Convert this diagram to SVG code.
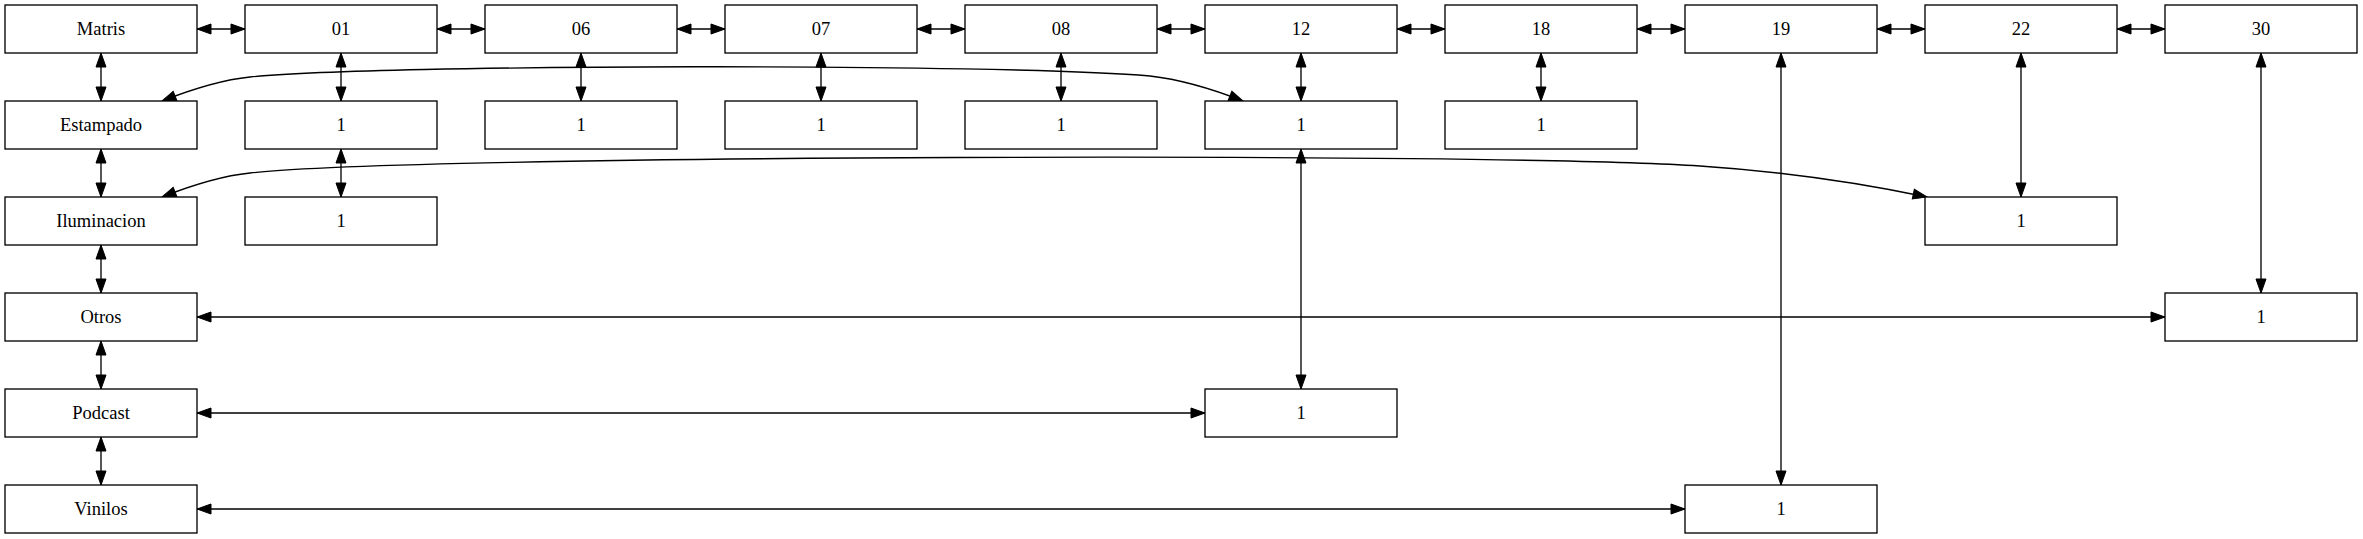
<svg xmlns="http://www.w3.org/2000/svg" width="2363" height="539" viewBox="0 0 2363 539">
<style>
.n rect{fill:#fff;stroke:#000;stroke-width:1.33}
.n text{font-family:"Liberation Serif","Times New Roman",serif;font-size:18.5px;text-anchor:middle;fill:#000}
.e path{fill:none;stroke:#000;stroke-width:1.33;marker-start:url(#ah);marker-end:url(#ah)}
</style>
<defs>
<marker id="ah" markerUnits="userSpaceOnUse" markerWidth="15" markerHeight="11" refX="14" refY="5" orient="auto-start-reverse" overflow="visible">
<path d="M0,0 L14,5 L0,10 Z" fill="#000" stroke="#000" stroke-width="1"/>
</marker>
</defs>
<rect width="2363" height="539" fill="#fff"/>
<g id="connectors" class="e">
<path d="M197,29 H245"/>
<path d="M437,29 H485"/>
<path d="M677,29 H725"/>
<path d="M917,29 H965"/>
<path d="M1157,29 H1205"/>
<path d="M1397,29 H1445"/>
<path d="M1637,29 H1685"/>
<path d="M1877,29 H1925"/>
<path d="M2117,29 H2165"/>
<path d="M101,53 V101"/>
<path d="M101,149 V197"/>
<path d="M101,245 V293"/>
<path d="M101,341 V389"/>
<path d="M101,437 V485"/>
<path d="M341,53 V101"/>
<path d="M341,149 V197"/>
<path d="M581,53 V101"/>
<path d="M821,53 V101"/>
<path d="M1061,53 V101"/>
<path d="M1301,53 V101"/>
<path d="M1301,149 V389"/>
<path d="M1541,53 V101"/>
<path d="M1781,53 V485"/>
<path d="M2021,53 V197"/>
<path d="M2261,53 V293"/>
<path d="M197,317 H2165"/>
<path d="M197,413 H1205"/>
<path d="M197,509 H1685"/>
<path d="M162,101 C190,90 220,80 250,77 C380,64 1000,63 1150,76 C1185,80 1215,90 1243,101"/>
<path d="M162,197 C190,186 220,176 250,173 C400,155 1500,152 1700,166 C1790,172 1870,185 1927,197"/>
</g>
<g id="n_matris" class="n"><rect x="5" y="5" width="192" height="48"/><text x="101" y="34.5">Matris</text></g>
<g id="n_01" class="n"><rect x="245" y="5" width="192" height="48"/><text x="341" y="34.5">01</text></g>
<g id="n_06" class="n"><rect x="485" y="5" width="192" height="48"/><text x="581" y="34.5">06</text></g>
<g id="n_07" class="n"><rect x="725" y="5" width="192" height="48"/><text x="821" y="34.5">07</text></g>
<g id="n_08" class="n"><rect x="965" y="5" width="192" height="48"/><text x="1061" y="34.5">08</text></g>
<g id="n_12" class="n"><rect x="1205" y="5" width="192" height="48"/><text x="1301" y="34.5">12</text></g>
<g id="n_18" class="n"><rect x="1445" y="5" width="192" height="48"/><text x="1541" y="34.5">18</text></g>
<g id="n_19" class="n"><rect x="1685" y="5" width="192" height="48"/><text x="1781" y="34.5">19</text></g>
<g id="n_22" class="n"><rect x="1925" y="5" width="192" height="48"/><text x="2021" y="34.5">22</text></g>
<g id="n_30" class="n"><rect x="2165" y="5" width="192" height="48"/><text x="2261" y="34.5">30</text></g>
<g id="n_estampado" class="n"><rect x="5" y="101" width="192" height="48"/><text x="101" y="130.5">Estampado</text></g>
<g id="n_01_1" class="n"><rect x="245" y="101" width="192" height="48"/><text x="341" y="130.5">1</text></g>
<g id="n_06_1" class="n"><rect x="485" y="101" width="192" height="48"/><text x="581" y="130.5">1</text></g>
<g id="n_07_1" class="n"><rect x="725" y="101" width="192" height="48"/><text x="821" y="130.5">1</text></g>
<g id="n_08_1" class="n"><rect x="965" y="101" width="192" height="48"/><text x="1061" y="130.5">1</text></g>
<g id="n_12_1" class="n"><rect x="1205" y="101" width="192" height="48"/><text x="1301" y="130.5">1</text></g>
<g id="n_18_1" class="n"><rect x="1445" y="101" width="192" height="48"/><text x="1541" y="130.5">1</text></g>
<g id="n_iluminacion" class="n"><rect x="5" y="197" width="192" height="48"/><text x="101" y="226.5">Iluminacion</text></g>
<g id="n_01_2" class="n"><rect x="245" y="197" width="192" height="48"/><text x="341" y="226.5">1</text></g>
<g id="n_22_1" class="n"><rect x="1925" y="197" width="192" height="48"/><text x="2021" y="226.5">1</text></g>
<g id="n_otros" class="n"><rect x="5" y="293" width="192" height="48"/><text x="101" y="322.5">Otros</text></g>
<g id="n_30_1" class="n"><rect x="2165" y="293" width="192" height="48"/><text x="2261" y="322.5">1</text></g>
<g id="n_podcast" class="n"><rect x="5" y="389" width="192" height="48"/><text x="101" y="418.5">Podcast</text></g>
<g id="n_12_2" class="n"><rect x="1205" y="389" width="192" height="48"/><text x="1301" y="418.5">1</text></g>
<g id="n_vinilos" class="n"><rect x="5" y="485" width="192" height="48"/><text x="101" y="514.5">Vinilos</text></g>
<g id="n_19_1" class="n"><rect x="1685" y="485" width="192" height="48"/><text x="1781" y="514.5">1</text></g>
</svg>
